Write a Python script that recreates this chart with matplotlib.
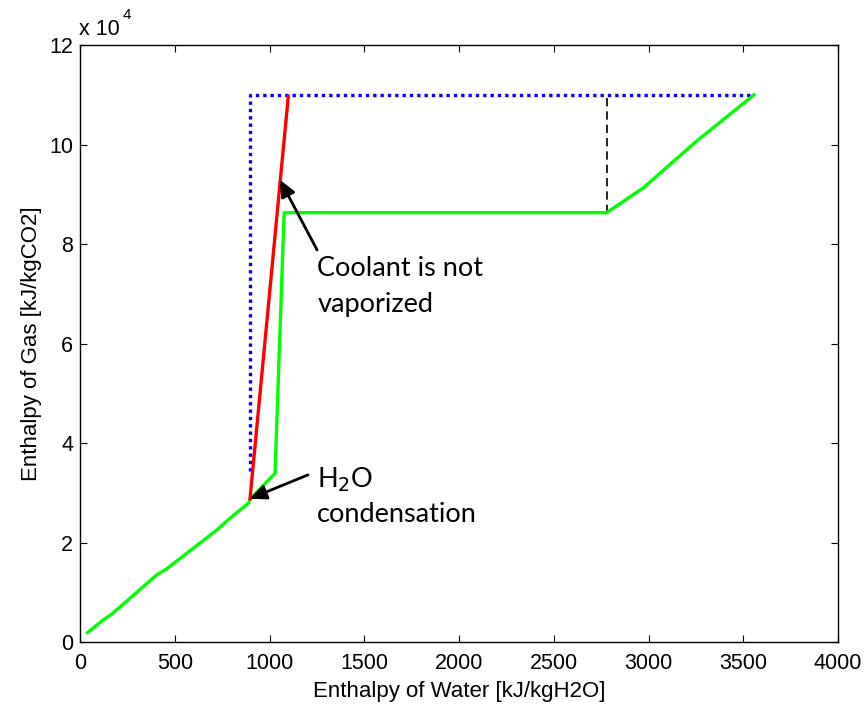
import numpy as np
import matplotlib.pyplot as plt
from matplotlib.ticker import FuncFormatter

# green curve: water vs gas enthalpy
water_h = [40, 121, 167, 405, 457, 721, 792, 888, 900, 1029, 1077, 2779, 2973, 3254, 3557]
gas_h = [1900, 4400, 5600, 13500, 14700, 22500, 24900, 27900, 28800, 33900, 86300, 86300,
         91300, 100700, 110000]

# red line: coolant not vaporized
red_x = [897, 1099]
red_y = [28800, 109700]

# blue dotted bound
blue_x = [897, 897, 3557]
blue_y = [34300, 110000, 110000]

# black dashed
dash_x = [2779, 2779]
dash_y = [86300, 110000]

XTICKS = [0, 500, 1000, 1500, 2000, 2500, 3000, 3500, 4000]
YTICKS = [0, 20000, 40000, 60000, 80000, 100000, 120000]

TICK_FS = 15.5
LABEL_FS = 16
NOTE_FS = 19.5


def main():
    fig = plt.figure(figsize=(8.67, 7.11), dpi=100)
    ax = fig.add_axes([0.0923, 0.097, 0.8743, 0.8397])

    ax.plot(blue_x, blue_y, color="#0000ff", linestyle=(0, (1, 1.2)), linewidth=2.4)
    ax.plot(dash_x, dash_y, color="black", linestyle=(0, (5, 3)), linewidth=1.2)
    ax.plot(water_h, gas_h, color="#00ff00", linewidth=2.4)
    ax.plot(red_x, red_y, color="#ff0000", linewidth=2.4)

    ax.set_xlim(0, 4000)
    ax.set_ylim(0, 120000)
    ax.set_xticks(XTICKS)
    ax.set_yticks(YTICKS)
    ax.yaxis.set_major_formatter(FuncFormatter(lambda v, p: f"{v / 1e4:g}"))
    ax.tick_params(direction="in", top=True, right=True, labelsize=TICK_FS, length=5)
    ax.tick_params(axis="x", pad=8)
    ax.tick_params(axis="y", pad=5)
    for lab in ax.get_xticklabels() + ax.get_yticklabels():
        lab.set_family("Liberation Sans")
    for s in ax.spines.values():
        s.set_linewidth(1.0)

    ax.set_xlabel("Enthalpy of Water [kJ/kgH2O]", fontsize=LABEL_FS, family="Liberation Sans", labelpad=5)
    ax.set_ylabel("Enthalpy of Gas [kJ/kgCO2]", fontsize=LABEL_FS, family="Liberation Sans", labelpad=5)
    fig.text(79 / 867, 1 - 35 / 711, "x 10", fontsize=TICK_FS, family="Liberation Sans",
             ha="left", va="baseline")
    fig.text(123 / 867, 1 - 19 / 711, "4", fontsize=11, family="Liberation Sans",
             ha="left", va="baseline")

    arrow = dict(arrowstyle="-|>,head_length=1.0,head_width=0.45", color="black", lw=2,
                 shrinkA=0, shrinkB=0)
    ax.annotate("", xy=(1055, 92900), xytext=(1251, 78800), arrowprops=arrow)
    ax.text(1252, 73600, "Coolant is not", fontsize=NOTE_FS, family="Lato", va="baseline")
    ax.text(1252, 66300, "vaporized", fontsize=NOTE_FS, family="Lato", va="baseline")
    ax.annotate("", xy=(895, 28800), xytext=(1203, 33600), arrowprops=arrow)
    ax.text(1252, 31000, "H$_2$O", fontsize=NOTE_FS, family="Lato", va="baseline")
    ax.text(1252, 24200, "condensation", fontsize=NOTE_FS, family="Lato", va="baseline")

    fig.savefig("out.png", dpi=100)


if __name__ == "__main__":
    main()
